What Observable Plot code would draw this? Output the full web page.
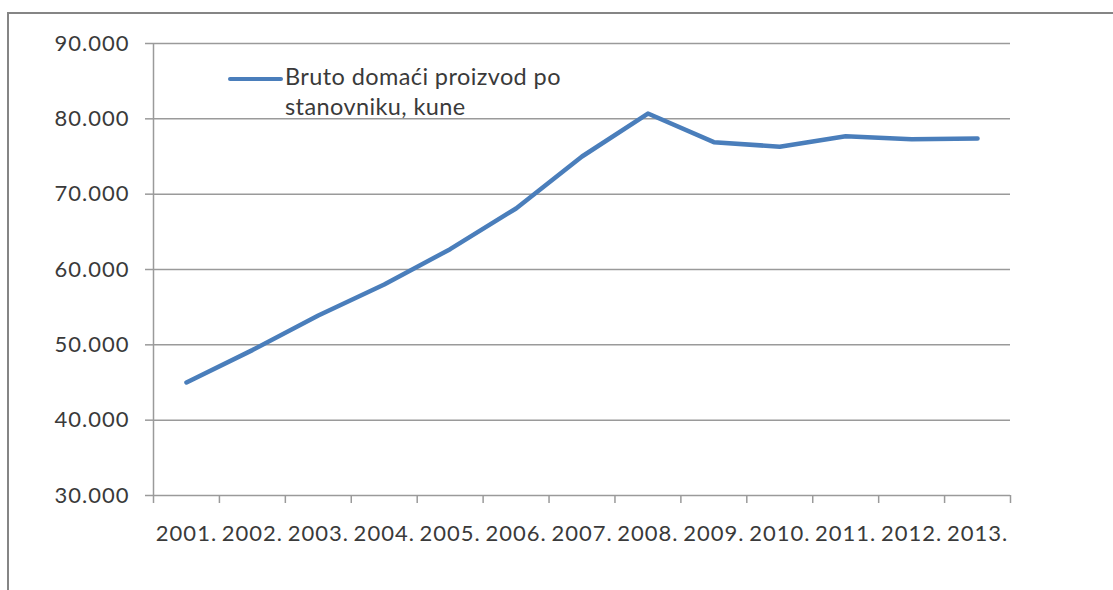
<!DOCTYPE html>
<html>
<head>
<meta charset="utf-8">
<script src="https://cdn.jsdelivr.net/npm/d3@7"></script>
<script src="https://cdn.jsdelivr.net/npm/@observablehq/plot@0.6"></script>
<style>
  html, body { margin: 0; padding: 0; background: #fff; }
  #wrap { position: relative; width: 1113px; height: 590px; overflow: hidden; font-family: Lato, "Open Sans", sans-serif; }
  #border { position: absolute; left: 7px; top: 12px; width: 1200px; height: 700px; border-top: 2.5px solid #858585; border-left: 2.5px solid #858585; }
  #legend { position: absolute; left: 228px; top: 61px; display: flex; align-items: flex-start; }
  #legend .swatch { width: 55px; height: 4px; background: #4a7ebb; margin-top: 16px; border-radius: 2px; }
  #legend .label { margin-left: 2px; font-size: 23.5px; line-height: 30px; letter-spacing: 0.4px; color: #3a3a3a; }
</style>
</head>
<body>
<div id="wrap">
  <div id="border"></div>
  <div id="chart"></div>
  <div id="legend"><div class="swatch"></div><div class="label">Bruto domaći proizvod po<br>stanovniku, kune</div></div>
</div>
<script>
const years = [2001, 2002, 2003, 2004, 2005, 2006, 2007, 2008, 2009, 2010, 2011, 2012, 2013];
const gdpPerCapita = [45000, 49300, 53900, 58000, 62700, 68100, 75000, 80700, 76900, 76300, 77700, 77300, 77400];
const yTicks = [30000, 40000, 50000, 60000, 70000, 80000, 90000];
const seriesName = "Bruto domaći proizvod po stanovniku, kune";

const data = years.map((y, i) => ({year: y, value: gdpPerCapita[i]}));
const boundaries = [years[0] - 0.5, ...years.map(y => y + 0.5)];
const fmt = d3.formatLocale({thousands: ".", grouping: [3], decimal: ","}).format(",");

const gridColor = "#9a9a9a";
const textColor = "#3a3a3a";

const chart = Plot.plot({
  width: 1113,
  height: 590,
  marginLeft: 153,
  marginRight: 103,
  marginTop: 43,
  marginBottom: 95,
  style: {fontFamily: "Lato, 'Open Sans', sans-serif", fontSize: "22px", letterSpacing: "1px", color: textColor, background: "transparent"},
  x: {type: "linear", domain: [years[0] - 0.5, years[years.length - 1] + 0.5]},
  y: {domain: [30000, 90000]},
  marks: [
    Plot.ruleY(yTicks, {stroke: gridColor, strokeWidth: 1.5, strokeOpacity: 1}),
    Plot.ruleX([years[0] - 0.5], {stroke: gridColor, strokeWidth: 1.5}),
    Plot.axisY({ticks: yTicks, tickFormat: fmt, tickSize: 8, tickPadding: 16, stroke: gridColor, strokeWidth: 1.5, strokeOpacity: 1, fill: textColor, fontSize: 22, label: null}),
    Plot.axisX({ticks: boundaries, tickFormat: () => "", tickSize: 8, stroke: gridColor, strokeWidth: 1.5, strokeOpacity: 1, label: null}),
    Plot.axisX({ticks: years, tickFormat: d => d + ".", tickSize: 0, tickPadding: 30, fill: textColor, fontSize: 22, label: null}),
    Plot.line(data, {x: "year", y: "value", stroke: "#4a7ebb", strokeWidth: 4.5, strokeLinejoin: "round", strokeLinecap: "round"})
  ]
});
document.getElementById("chart").appendChild(chart);
</script>
</body>
</html>
